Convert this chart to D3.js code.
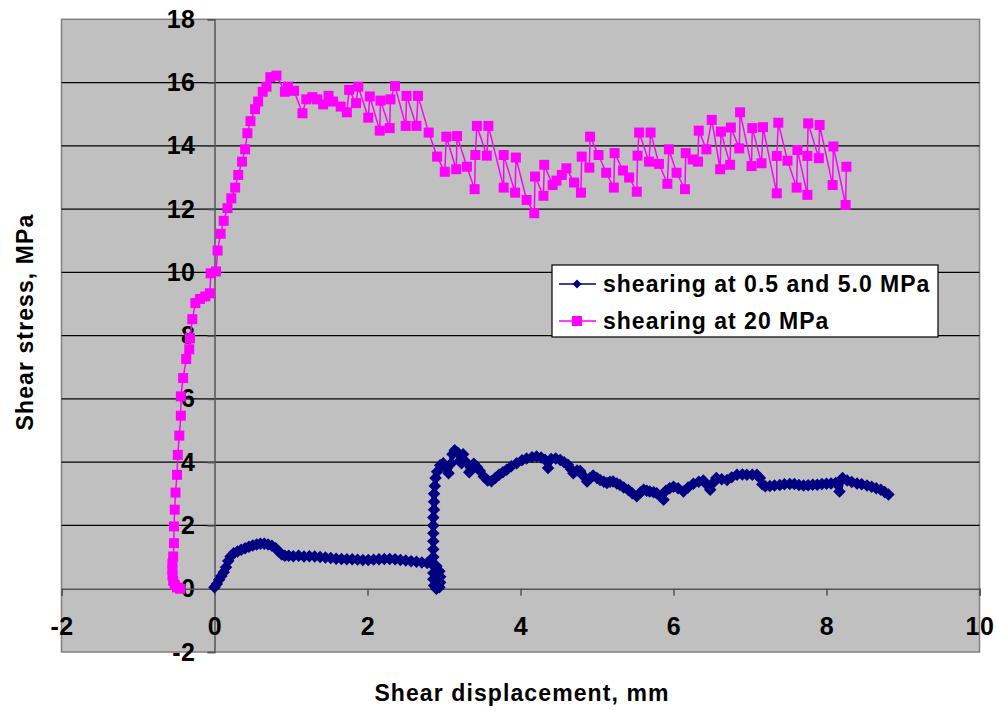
<!DOCTYPE html>
<html><head><meta charset="utf-8">
<script src="https://cdn.jsdelivr.net/npm/d3@7"></script>
<style>
html,body{margin:0;padding:0;background:#fff;}
text{font-family:"Liberation Sans",Arial,sans-serif;font-weight:bold;fill:#000;}
</style></head>
<body>
<svg id="chart" width="996" height="711"></svg>
<script>
// ---- data ----
const seriesNames = ["shearing at 0.5 and 5.0 MPa", "shearing at 20 MPa"];
const xTicks = [-2, 0, 2, 4, 6, 8, 10];
const yTicks = [-2, 0, 2, 4, 6, 8, 10, 12, 14, 16, 18];
const xTitle = "Shear displacement, mm";
const yTitle = "Shear stress, MPa";

const lowX = [0.00,0.03,0.06,0.09,0.12,0.15,0.18,0.21,0.25,0.30,0.35,0.40,0.45,0.50,0.55,0.60,0.65,0.70,0.75,0.80,0.84,0.88,0.92,
0.97,1.03,1.10,1.17,1.24,1.31,1.38,1.45,1.52,1.59,1.66,1.73,1.80,1.87,1.94,2.01,2.08,2.15,2.22,2.29,2.36,2.43,2.50,2.57,2.64,2.71,2.78,2.84,
2.90,2.94,2.95,2.95,2.94,2.90,2.87,2.86,2.86,2.86,
2.86,2.86,2.86,2.86,2.86,2.86,2.87,2.87,2.87,2.88,2.89,2.91,2.95,2.99,
3.03,3.06,3.09,3.11,3.14,3.18,3.21,3.23,3.25,3.29,3.33,3.36,3.39,3.43,3.47,3.52,3.57,3.62,3.67,3.72,3.77,3.82,3.88,3.95,4.02,4.08,4.15,4.21,4.27,4.32,4.36,4.40,4.46,4.52,4.57,4.62,4.66,4.69,4.74,4.78,4.83,4.87,4.91,4.95,5.00,5.04,5.09,5.13,5.17,5.21,5.26,5.30,5.35,5.41,5.46,5.52,5.57,5.61,5.65,5.69,5.74,5.78,5.83,5.87,5.90,5.95,6.00,6.06,6.13,6.19,6.26,6.33,6.39,6.44,6.48,6.52,6.56,6.63,6.70,6.76,6.83,6.90,6.96,7.03,7.09,7.13,7.16,7.20,7.26,7.32,7.39,7.45,7.52,7.58,7.64,7.70,7.76,7.82,7.88,7.94,8.00,8.06,8.12,8.17,8.21,8.27,8.33,8.40,8.46,8.53,8.59,8.65,8.71,8.76,8.81];
const lowY = [0.05,0.15,0.28,0.40,0.52,0.68,0.88,1.02,1.12,1.18,1.23,1.28,1.33,1.37,1.40,1.42,1.42,1.40,1.36,1.28,1.18,1.08,1.04,
1.04,1.03,1.04,1.02,1.03,1.02,1.00,0.99,0.97,0.95,0.94,0.93,0.93,0.92,0.91,0.91,0.92,0.93,0.94,0.94,0.93,0.91,0.89,0.87,0.85,0.83,0.81,0.79,
0.72,0.55,0.38,0.20,0.05,0.00,0.10,0.30,0.50,0.75,
1.00,1.25,1.50,1.75,2.00,2.25,2.50,2.75,3.00,3.25,3.50,3.70,3.90,3.97,
3.80,3.65,3.95,4.25,4.38,4.30,4.05,3.97,4.25,4.00,3.68,3.85,3.95,3.85,3.72,3.55,3.42,3.40,3.50,3.60,3.68,3.76,3.87,3.97,4.06,4.12,4.16,4.18,4.15,4.08,3.82,4.10,4.12,4.07,4.00,3.92,3.78,3.65,3.74,3.72,3.55,3.39,3.50,3.58,3.50,3.44,3.38,3.34,3.38,3.39,3.33,3.28,3.20,3.12,3.02,2.92,3.05,3.13,3.10,3.07,3.05,3.02,2.92,2.81,3.10,3.18,3.22,3.18,3.07,3.20,3.32,3.38,3.42,3.28,3.13,3.35,3.50,3.46,3.44,3.52,3.60,3.61,3.60,3.60,3.60,3.50,3.30,3.24,3.25,3.26,3.28,3.30,3.31,3.31,3.28,3.26,3.27,3.29,3.29,3.31,3.32,3.33,3.34,3.07,3.50,3.42,3.37,3.33,3.30,3.26,3.22,3.18,3.13,3.06,2.98];

const highX = [-0.45,-0.49,-0.52,-0.54,-0.55,-0.55,-0.55,-0.54,-0.53,-0.53,-0.52,-0.51,-0.49,-0.48,-0.46,-0.44,-0.44,-0.41,-0.37,-0.33,-0.32,-0.29,-0.25,-0.19,-0.12,-0.06,-0.05,0.02,0.04,0.08,0.12,0.17,0.22,0.27,0.31,0.36,0.40,0.43,0.47,0.53,0.57,0.63,0.68,0.73,0.81,0.92,0.96,1.04,1.15,1.20,1.28,1.34,1.42,1.49,1.55,1.65,1.73,1.76,1.85,1.88,2.01,2.03,2.16,2.17,2.29,2.30,2.36,2.50,2.51,2.64,2.66,2.80,2.91,3.01,3.03,3.16,3.17,3.30,3.40,3.41,3.43,3.56,3.58,3.78,3.78,3.93,3.94,4.08,4.18,4.19,4.30,4.31,4.42,4.47,4.54,4.60,4.70,4.79,4.80,4.90,4.91,5.02,5.12,5.22,5.23,5.34,5.42,5.52,5.53,5.55,5.68,5.70,5.81,5.92,5.94,6.04,6.15,6.16,6.25,6.32,6.33,6.43,6.50,6.61,6.62,6.74,6.75,6.86,6.87,7.02,7.03,7.15,7.17,7.35,7.35,7.37,7.49,7.61,7.62,7.75,7.75,7.76,7.90,7.91,8.08,8.09,8.25,8.26];
const highY = [0.00,0.04,0.12,0.25,0.42,0.60,0.80,1.02,1.44,1.97,2.50,3.04,3.60,4.23,4.84,5.47,6.08,6.66,7.26,7.57,7.92,8.52,9.03,9.16,9.24,9.34,9.97,10.03,10.69,11.22,11.63,12.03,12.34,12.68,13.08,13.50,13.89,14.40,14.78,15.16,15.40,15.71,15.87,16.17,16.22,15.71,15.87,15.74,15.03,15.47,15.54,15.47,15.31,15.58,15.40,15.24,15.06,15.77,15.35,15.87,14.89,15.56,14.48,15.43,14.56,15.47,15.89,14.63,15.58,14.63,15.58,14.42,13.66,13.18,14.29,13.26,14.31,13.34,12.63,13.71,14.63,13.69,14.63,12.68,13.71,12.52,13.63,12.29,11.87,13.03,12.42,13.40,12.76,12.90,13.08,13.29,12.84,12.52,13.66,13.31,14.29,13.71,13.15,12.68,13.77,13.22,13.00,12.55,13.69,14.42,13.50,14.42,13.43,12.80,13.89,13.15,12.63,13.77,13.57,13.50,14.48,13.89,14.82,13.26,14.45,13.40,14.58,13.92,15.06,13.36,14.56,13.45,14.59,12.50,13.68,14.73,13.53,12.68,13.87,12.45,13.68,14.71,13.61,14.66,12.76,13.98,12.13,13.34];

// ---- layout ----
const FONT = "Liberation Sans, Arial, sans-serif";
const svg = d3.select("#chart");
const L = 61.5, R = 979.5, T = 19.3, B = 652;
const x = d3.scaleLinear().domain([-2, 10]).range([L, R]);
const y = d3.scaleLinear().domain([-2, 18]).range([B, T]);
const fmt = d => String(d);

svg.append("rect").attr("x", L).attr("y", T).attr("width", R - L).attr("height", B - T)
  .attr("fill", "#c0c0c0").attr("stroke", "#808080").attr("stroke-width", 1.5);

// gridlines
svg.append("g").selectAll("line").data(yTicks.filter(d => d !== 0 && d !== -2 && d !== 18)).join("line")
  .attr("x1", L).attr("x2", R).attr("y1", d => y(d)).attr("y2", d => y(d))
  .attr("stroke", "#000").attr("stroke-width", 1.2);

// y axis at x=0
const yAxis = d3.axisLeft(y).tickValues(yTicks).tickSize(7).tickFormat(fmt);
const gy = svg.append("g").attr("transform", `translate(${x(0)},0)`).call(yAxis);
gy.select(".domain").attr("stroke", "#555").attr("stroke-width", 1.5);
gy.selectAll(".tick line").attr("stroke", "#555").attr("stroke-width", 1.5);
gy.selectAll(".tick text").attr("x", -19).attr("font-size", 25).attr("letter-spacing", 0.5)
  .attr("font-family", FONT).attr("font-weight", "bold").attr("fill", "#000");

// x axis at y=0
const xAxis = d3.axisBottom(x).tickValues(xTicks).tickSize(7).tickFormat(fmt);
const gx = svg.append("g").attr("transform", `translate(0,${y(0)})`).call(xAxis);
gx.select(".domain").attr("stroke", "#555").attr("stroke-width", 1.5);
gx.selectAll(".tick line").attr("stroke", "#555").attr("stroke-width", 1.5);
gx.selectAll(".tick text").attr("y", 29).attr("font-size", 25).attr("letter-spacing", 0.5)
  .attr("font-family", FONT).attr("font-weight", "bold").attr("fill", "#000");

const lowData = lowX.map((v, i) => [v, lowY[i]]);
const highData = highX.map((v, i) => [v, highY[i]]);
const line = d3.line().x(d => x(d[0])).y(d => y(d[1]));

// low series (navy diamonds)
svg.append("path").datum(lowData).attr("d", line).attr("fill", "none").attr("stroke", "#000080")
  .attr("stroke-width", 5).attr("stroke-linejoin", "round");
const diamond = d3.symbol().type(d3.symbolSquare).size(78);
svg.append("g").selectAll("path").data(lowData).join("path")
  .attr("d", diamond)
  .attr("transform", d => `translate(${x(d[0])},${y(d[1])}) rotate(45)`)
  .attr("fill", "#000080");

// high series (magenta squares)
svg.append("path").datum(highData).attr("d", line).attr("fill", "none").attr("stroke", "#ff00ff").attr("stroke-width", 1.5);
svg.append("g").selectAll("rect").data(highData).join("rect")
  .attr("x", d => x(d[0]) - 5).attr("y", d => y(d[1]) - 5).attr("width", 10).attr("height", 10)
  .attr("fill", "#ff00ff");

// legend
const lg = svg.append("g");
lg.append("rect").attr("x", 552).attr("y", 265).attr("width", 386).attr("height", 72)
  .attr("fill", "#fff").attr("stroke", "#000").attr("stroke-width", 1.2);
const rows = [284, 321];
lg.append("line").attr("x1", 559).attr("x2", 596).attr("y1", rows[0]).attr("y2", rows[0]).attr("stroke", "#000080").attr("stroke-width", 1.5);
lg.append("path").attr("d", d3.symbol().type(d3.symbolSquare).size(40)).attr("transform", `translate(577,${rows[0]}) rotate(45)`).attr("fill", "#000080");
lg.append("line").attr("x1", 559).attr("x2", 596).attr("y1", rows[1]).attr("y2", rows[1]).attr("stroke", "#ff00ff").attr("stroke-width", 1.5);
lg.append("rect").attr("x", 572).attr("y", rows[1] - 5).attr("width", 10).attr("height", 10).attr("fill", "#ff00ff");
lg.selectAll("text.lt").data(seriesNames).join("text").attr("class", "lt")
  .attr("x", 603).attr("y", (d, i) => rows[i]).attr("dy", "0.36em").attr("font-size", 23).attr("letter-spacing", 1).text(d => d);

// titles
svg.append("text").attr("x", 522).attr("y", 693).attr("dy", "0.36em").attr("text-anchor", "middle").attr("font-size", 23).attr("letter-spacing", 1.1).text(xTitle);
svg.append("text").attr("transform", "translate(25,322) rotate(-90)").attr("dy", "0.36em").attr("text-anchor", "middle").attr("font-size", 23).attr("letter-spacing", 1.1).text(yTitle);
</script>
</body></html>
